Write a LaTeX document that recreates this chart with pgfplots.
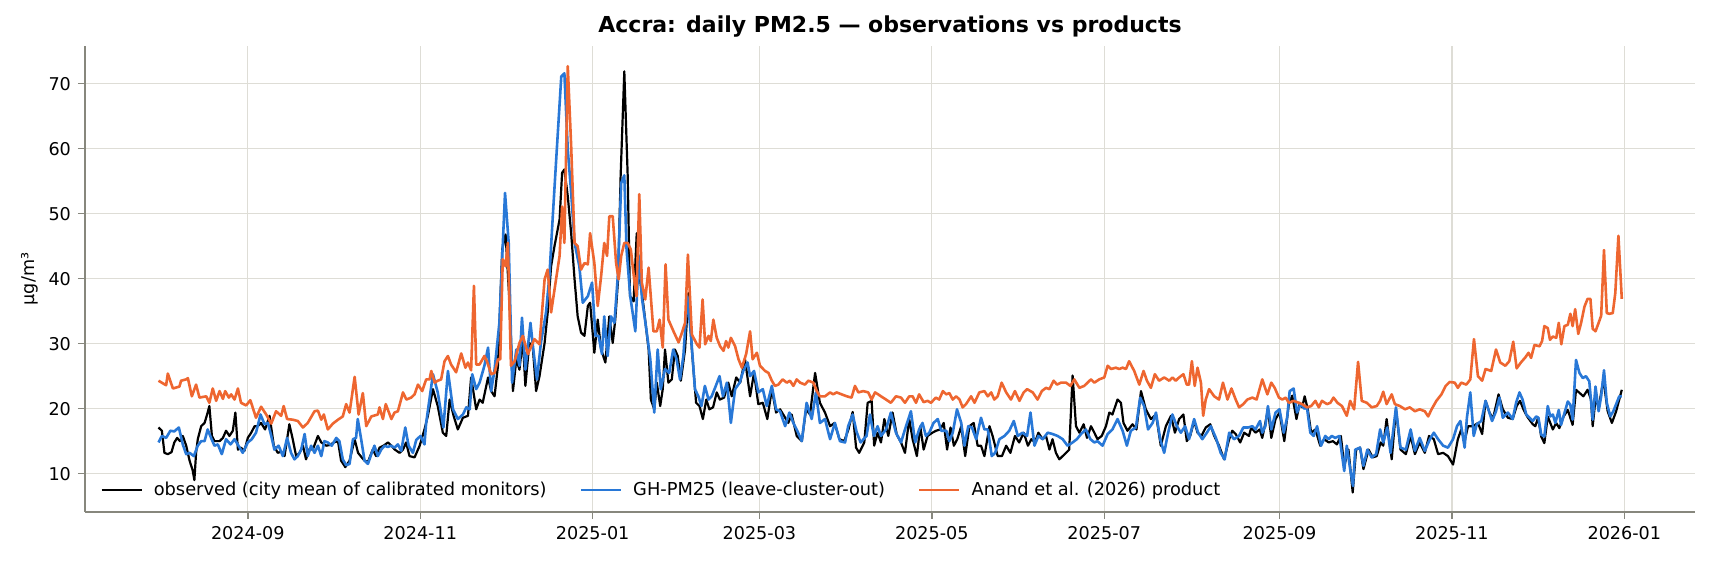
\documentclass[border=0pt]{standalone}
\usepackage{fontspec}
\setmainfont{DejaVu Sans}
\usepackage{pgfplots}
\pgfplotsset{compat=1.18}
\definecolor{ghblue}{RGB}{40,120,215}
\definecolor{anand}{RGB}{238,102,48}
\definecolor{gridc}{RGB}{222,221,214}
\definecolor{spinec}{RGB}{135,135,125}
\begin{document}
\begin{tikzpicture}
\begin{axis}[
  scale only axis, width=805pt, height=233pt,
  xmin=-57.6, xmax=512, ymin=4.1, ymax=75.8,
  axis x line*=bottom, axis y line*=left,
  axis line style={spinec, line width=0.7pt},
  xtick={0,61,122,181,242,303,365,426,487},
  xticklabels={2024-09,2024-11,2025-01,2025-03,2025-05,2025-07,2025-09,2025-11,2026-01},
  ytick={10,20,30,40,50,60,70},
  tick align=outside, major tick length=3.5pt,
  tick style={spinec, line width=0.7pt},
  grid=major, major grid style={gridc, line width=0.6pt},
  tick label style={font=\fontsize{8.8}{10}\selectfont},
  /pgf/number format/assume math mode=true,
  ylabel={µg/m³},
  every axis y label/.style={at={(axis description cs:-0.0345,0.5)}, anchor=center, rotate=90, font=\fontsize{8.8}{10}\selectfont},
  title={Accra: daily PM2.5 — observations vs products},
  every axis title/.style={at={(axis description cs:0.5,1)}, anchor=center, yshift=9.5pt, font=\bfseries\fontsize{11}{13}\selectfont},
  legend style={at={(axis description cs:0.0057,0.047)}, anchor=west, draw=none, fill=none,
    font=\fontsize{8.9}{10}\selectfont, nodes={inner sep=0.5pt},
    /tikz/every odd column/.append style={column sep=5pt},
    /tikz/every even column/.append style={column sep=16pt}},
  legend columns=3, legend cell align=left,
  legend image code/.code={\draw[#1] (0pt,0pt) -- (20pt,0pt);},
]
\addplot[black, line width=1.1pt, line join=round] coordinates {
(-31.6,17.1) (-30.4,16.6) (-29.5,13.2) (-28.3,13.0) (-27.0,13.3) (-26.0,14.8) (-25.0,15.5) (-24.0,15.0) (-23.0,15.8) (-21.8,14.3)
(-20.6,12.0) (-19.5,10.5) (-18.9,9.0) (-18.3,13.2) (-17.7,15.3) (-16.5,17.3) (-15.3,17.8) (-14.4,19.1) (-13.6,20.4) (-12.7,15.8)
(-11.8,15.0) (-10.0,15.0) (-8.8,15.5) (-7.7,16.6) (-6.5,15.8) (-5.3,16.6) (-4.4,19.4) (-3.5,13.7) (-2.4,14.0) (-1.2,13.5)
(0.0,15.5) (1.2,16.3) (2.4,17.3) (3.5,17.3) (4.7,17.8) (6.1,16.8) (7.7,18.9) (9.2,14.3) (10.6,13.2) (11.8,13.4)
(13.0,12.7) (14.7,17.6) (15.9,15.3) (17.1,12.7) (18.3,13.2) (19.5,14.3) (20.6,12.2) (21.8,13.8) (23.0,13.7) (24.8,15.8)
(26.0,14.8) (27.7,14.3) (29.0,14.4) (30.4,14.8) (31.9,15.0) (33.0,12.0) (34.5,11.0) (36.0,12.0) (37.8,15.3) (39.0,13.2)
(40.1,12.6) (41.3,12.0) (42.5,11.8) (44.2,13.7) (45.4,12.7) (46.6,14.0) (48.0,14.3) (49.6,14.8) (50.8,14.3) (52.0,13.7)
(53.7,13.2) (54.9,13.7) (56.0,14.8) (57.2,12.7) (59.0,12.5) (60.8,14.3) (62.5,16.8) (63.7,18.9) (65.5,23.0) (67.2,20.4)
(69.0,16.3) (70.2,15.8) (71.4,21.4) (72.8,18.9) (74.3,16.8) (76.1,18.6) (77.9,18.9) (79.0,24.8) (80.8,19.9) (82.0,21.4)
(83.1,20.9) (85.0,24.8) (86.1,22.7) (87.3,21.9) (88.5,26.6) (90.0,44.5) (91.2,46.8) (92.6,36.3) (93.8,22.7) (95.0,27.6)
(96.1,26.0) (97.3,30.7) (98.2,23.5) (99.6,30.1) (100.8,29.6) (102.0,22.7) (103.2,25.0) (105.0,30.1) (106.1,34.8) (107.3,41.9)
(108.5,45.0) (110.3,49.1) (111.2,56.3) (112.0,56.8) (113.2,52.7) (114.4,47.0) (115.6,39.9) (116.7,34.2) (117.9,31.7) (119.1,31.2)
(120.3,35.8) (121.1,36.3) (122.6,28.6) (123.8,33.7) (125.0,29.1) (126.5,27.1) (127.9,34.2) (129.1,30.1) (130.0,33.7) (131.0,39.9)
(131.9,55.8) (133.2,71.9) (134.4,55.8) (135.2,37.3) (136.5,36.5) (137.6,47.0) (138.6,40.4) (140.0,35.8) (141.8,29.1) (142.6,21.4)
(143.8,19.9) (144.7,24.0) (145.9,20.4) (146.8,23.0) (147.6,29.1) (148.8,24.0) (150.0,24.5) (151.1,29.1) (152.1,28.1) (153.2,24.3)
(154.7,29.1) (155.9,37.8) (157.1,29.1) (158.6,20.9) (159.8,20.4) (161.0,18.4) (162.2,21.4) (163.3,19.9) (164.6,20.2) (165.9,22.5)
(167.0,21.4) (168.5,21.7) (170.0,24.0) (171.2,21.9) (172.8,24.8) (174.2,24.0) (175.9,27.6) (177.7,21.9) (179.1,25.5) (180.6,20.7)
(182.2,20.9) (183.8,18.4) (185.4,23.0) (186.9,19.4) (188.3,19.9) (189.7,18.9) (191.2,17.8) (192.4,19.1) (194.2,15.8) (196.0,15.0)
(197.5,19.9) (198.9,19.1) (200.7,25.5) (202.4,20.9) (204.2,19.4) (206.0,17.3) (207.6,17.8) (209.3,15.3) (211.0,15.0) (212.5,16.8)
(214.0,19.5) (215.2,14.0) (216.3,13.2) (218.1,14.8) (219.3,20.9) (220.7,21.2) (221.6,14.3) (222.8,16.3) (224.0,14.8) (225.2,18.4)
(226.6,15.8) (228.1,19.4) (229.6,16.0) (231.1,14.8) (232.5,13.2) (234.0,18.4) (235.2,15.3) (236.7,12.7) (237.9,17.3) (239.1,13.7)
(240.5,15.8) (242.2,16.3) (243.5,16.6) (245.0,16.8) (246.2,17.8) (247.4,13.7) (248.6,17.1) (249.8,14.3) (251.0,15.3) (252.4,17.3)
(253.8,12.7) (255.3,17.3) (256.8,17.8) (258.2,14.3) (259.4,14.3) (260.6,12.7) (262.4,17.3) (263.5,15.8) (265.3,12.7) (266.8,12.7)
(268.3,14.3) (269.8,13.2) (271.4,15.8) (272.9,14.8) (274.5,16.3) (276.0,14.3) (277.2,15.3) (278.5,14.8) (279.7,16.3) (281.2,15.3)
(282.4,15.8) (283.6,13.7) (284.7,15.3) (285.9,13.2) (287.1,12.2) (288.3,12.7) (289.5,13.2) (290.6,13.7) (291.8,25.1) (293.0,17.3)
(294.2,16.3) (295.7,17.6) (296.9,15.5) (298.3,17.3) (299.5,16.3) (300.6,15.3) (302.1,15.8) (303.6,17.3) (304.8,19.4) (305.9,19.1)
(307.7,21.4) (308.9,20.9) (309.8,17.8) (311.2,16.6) (313.0,17.6) (314.4,16.8) (316.0,22.7) (317.7,19.9) (319.5,18.4) (321.3,19.1)
(323.0,14.3) (324.8,17.3) (326.6,18.9) (328.0,16.3) (329.5,18.4) (331.0,19.1) (332.2,15.0) (333.4,15.8) (334.8,18.1) (336.0,16.3)
(337.4,15.8) (338.9,17.1) (340.5,17.6) (341.9,15.8) (343.6,14.3) (345.4,12.2) (347.2,15.3) (348.3,16.6) (349.5,16.1) (351.1,14.8)
(352.5,16.3) (354.2,15.8) (355.0,17.1) (356.5,16.3) (358.0,16.8) (358.9,15.5) (360.0,17.8) (360.9,19.9) (362.1,15.5) (363.6,18.4)
(365.0,19.4) (366.7,15.0) (368.3,20.7) (369.5,22.0) (371.0,18.4) (372.2,20.9) (373.0,20.2) (373.9,21.9) (375.0,19.9) (376.2,16.3)
(377.7,16.8) (379.4,14.3) (380.8,15.3) (382.4,14.8) (383.9,15.0) (385.3,14.5) (386.7,15.8) (387.9,11.2) (389.4,13.7) (390.9,7.1)
(392.1,13.7) (393.5,14.0) (394.7,10.7) (396.5,13.7) (398.0,12.5) (399.4,12.7) (400.8,14.8) (401.7,14.3) (402.9,18.4) (404.7,12.2)
(406.2,19.9) (407.8,13.7) (409.7,13.0) (411.4,15.8) (412.9,13.0) (414.6,14.8) (416.4,13.2) (417.9,15.8) (419.6,15.3) (421.1,13.0)
(422.9,13.2) (424.6,12.7) (426.4,11.4) (428.1,15.3) (429.3,16.8) (430.5,15.0) (431.7,17.3) (433.5,17.3) (435.2,17.8) (436.7,16.1)
(437.9,21.2) (439.3,19.4) (440.5,18.4) (442.5,22.2) (444.0,19.9) (445.8,18.6) (447.5,18.4) (448.9,20.4) (450.1,21.2) (451.3,19.9)
(452.6,18.8) (454.6,17.6) (455.5,17.3) (456.5,18.6) (457.6,15.7) (458.7,14.7) (459.9,18.8) (461.7,16.8) (462.9,17.8) (464.0,17.0)
(465.5,18.8) (467.0,19.8) (468.7,17.5) (469.9,22.9) (471.2,22.4) (472.5,21.9) (474.0,22.9) (475.2,21.4) (475.8,17.3) (476.9,21.9)
(477.9,20.1) (479.6,24.5) (481.1,19.6) (482.6,17.8) (484.1,19.6) (486.1,22.9)
};
\addlegendentry{observed (city mean of calibrated monitors)}
\addplot[ghblue, line width=1.3pt, line join=round] coordinates {
(-31.6,14.8) (-30.4,15.8) (-28.9,15.5) (-27.4,16.6) (-26.0,16.5) (-24.4,17.1) (-23.0,14.5) (-21.8,13.0) (-20.6,13.2) (-19.1,12.7)
(-17.7,14.3) (-16.5,15.0) (-15.3,15.0) (-14.2,16.8) (-13.0,15.5) (-11.8,14.3) (-10.6,14.5) (-9.2,13.0) (-7.7,15.3) (-6.1,14.5)
(-4.7,15.3) (-3.3,14.3) (-1.8,13.2) (0.0,14.8) (1.4,15.3) (2.9,16.3) (4.5,19.1) (5.9,17.6) (7.1,17.8) (8.3,15.8)
(9.4,13.7) (10.9,14.3) (12.4,12.7) (13.9,15.5) (15.3,13.2) (16.5,12.2) (17.7,12.7) (18.9,13.7) (20.1,16.1) (21.2,12.7)
(22.4,14.3) (23.6,13.2) (24.8,14.3) (26.0,12.7) (27.1,15.0) (28.3,14.8) (29.7,14.3) (31.3,15.5) (32.4,15.0) (33.6,12.2)
(34.8,11.3) (36.0,11.5) (37.2,15.3) (38.3,15.5) (38.9,18.4) (40.1,15.3) (41.3,12.0) (42.5,11.5) (43.7,13.0) (44.8,14.3)
(46.0,12.7) (47.2,13.7) (48.4,14.3) (49.5,14.1) (50.7,14.3) (51.9,14.0) (53.1,14.5) (54.3,13.5) (55.7,17.1) (56.9,14.3)
(58.4,13.2) (59.6,15.2) (61.1,15.8) (62.5,14.5) (63.1,17.8) (65.5,25.3) (67.2,22.5) (69.2,17.1) (70.8,25.8) (72.6,19.9)
(74.3,18.4) (76.1,19.1) (77.3,20.2) (78.5,19.9) (79.4,25.3) (80.8,23.0) (82.0,24.0) (83.7,26.6) (85.0,29.4) (86.1,22.7)
(87.3,26.0) (89.0,33.2) (91.0,53.2) (92.3,45.5) (93.5,24.0) (95.0,29.1) (96.1,26.6) (97.0,34.0) (98.2,26.0) (100.0,33.2)
(101.0,29.1) (102.3,24.5) (103.7,30.1) (105.5,34.8) (106.7,40.4) (107.9,49.6) (109.1,58.3) (110.9,71.1) (112.0,71.6) (113.2,59.9)
(114.4,53.2) (115.6,45.5) (117.3,41.9) (118.5,36.3) (120.3,37.3) (121.8,39.4) (123.0,31.2) (124.1,31.2) (125.3,28.4) (126.1,34.2)
(127.3,28.1) (128.5,34.2) (129.7,33.2) (130.9,40.4) (132.1,54.7) (133.2,55.9) (134.0,44.5) (135.3,37.3) (137.1,31.9) (138.3,43.5)
(139.5,36.8) (141.0,32.2) (142.4,27.6) (143.8,19.4) (145.0,29.1) (146.1,23.0) (147.6,26.1) (149.1,25.5) (150.5,29.1) (151.7,27.6)
(152.9,24.5) (154.1,28.1) (155.5,37.3) (156.8,31.2) (158.2,23.0) (159.4,21.9) (160.5,20.4) (161.7,23.5) (163.0,21.4) (164.1,21.9)
(165.3,23.2) (166.9,25.0) (168.1,21.9) (169.5,24.0) (170.9,17.8) (172.4,23.0) (174.0,24.0) (175.3,25.8) (176.8,27.1) (177.7,25.0)
(179.1,25.8) (180.6,22.5) (182.2,23.0) (183.6,20.4) (185.4,23.5) (186.9,19.9) (188.3,19.6) (190.1,17.3) (191.6,19.4) (193.0,17.8)
(194.4,16.6) (196.0,15.0) (197.7,20.9) (199.5,18.4) (201.0,22.5) (202.4,17.8) (204.2,18.4) (206.0,15.3) (207.7,17.8) (209.5,15.0)
(211.3,14.8) (212.4,17.3) (214.0,19.1) (215.4,16.4) (216.8,14.8) (218.9,15.8) (220.1,19.1) (221.5,15.8) (222.8,17.3) (224.0,15.8)
(225.8,16.8) (227.5,19.4) (229.3,16.3) (231.1,14.8) (232.5,16.8) (234.6,19.6) (236.1,14.8) (237.5,16.8) (238.7,17.8) (239.9,15.8)
(241.1,16.3) (242.6,17.8) (244.1,18.4) (245.3,16.6) (247.1,16.6) (248.2,15.0) (249.4,16.3) (250.9,19.9) (252.4,17.8) (253.5,14.3)
(254.9,17.3) (256.2,17.1) (257.7,15.3) (259.4,18.6) (260.6,16.8) (261.8,16.8) (263.2,12.7) (264.4,13.2) (265.9,15.3) (267.7,15.8)
(269.4,16.6) (271.0,18.1) (272.4,15.8) (274.1,16.3) (275.7,15.8) (276.9,19.4) (278.3,14.3) (279.7,15.8) (281.2,15.3) (283.0,16.3)
(284.7,16.1) (286.5,15.8) (288.3,15.3) (290.0,14.3) (291.8,14.8) (293.3,15.3) (294.8,16.1) (296.5,16.8) (298.1,15.3) (299.5,14.8)
(300.6,15.0) (302.4,14.3) (304.2,16.1) (305.9,16.8) (307.7,18.4) (309.5,16.6) (311.0,14.3) (312.4,16.6) (314.2,17.1) (315.7,21.7)
(317.1,20.4) (318.5,16.8) (320.1,17.8) (321.3,19.4) (322.8,15.3) (324.2,13.2) (325.6,16.3) (327.1,19.1) (328.7,17.3) (330.1,16.3)
(331.6,17.3) (333.0,15.3) (334.8,18.4) (336.2,16.3) (337.7,15.3) (339.3,16.3) (340.7,17.3) (342.5,15.5) (344.2,13.2) (345.6,12.2)
(347.2,16.3) (348.9,15.3) (350.7,15.8) (352.2,17.1) (353.9,17.1) (355.4,17.3) (356.5,16.8) (358.1,18.1) (358.9,16.3) (360.0,17.3)
(360.9,20.4) (362.1,16.8) (363.6,19.4) (365.0,19.9) (366.5,16.3) (367.7,18.6) (368.6,22.7) (370.0,23.1) (371.2,19.4) (372.4,20.7)
(373.8,20.0) (374.7,20.2) (375.9,16.3) (377.1,15.8) (378.3,17.3) (379.7,14.3) (381.2,15.8) (382.4,15.3) (383.5,15.8) (384.7,15.5)
(386.2,15.8) (387.9,10.4) (388.8,14.3) (390.0,10.7) (391.0,8.1) (391.8,13.7) (393.5,14.0) (394.7,11.2) (396.1,13.7) (397.6,12.5)
(399.2,13.0) (400.6,16.8) (401.7,14.8) (403.1,17.1) (404.3,13.2) (406.2,20.2) (407.8,14.0) (409.7,13.7) (411.4,16.8) (412.9,13.5)
(414.6,15.5) (416.4,13.5) (418.2,15.3) (419.6,16.3) (421.1,15.3) (422.9,14.3) (424.6,14.0) (426.4,15.3) (427.8,17.3) (429.0,18.1)
(430.5,14.0) (431.3,18.6) (432.5,22.5) (433.7,15.8) (434.8,17.6) (436.4,18.1) (437.9,21.2) (439.1,19.6) (440.2,18.1) (441.6,19.6)
(442.8,21.7) (444.0,18.6) (445.8,19.4) (447.5,18.4) (448.7,20.9) (449.9,22.5) (451.0,21.4) (452.3,19.1) (454.6,18.1) (455.8,18.8)
(456.6,18.6) (457.6,16.0) (458.7,15.7) (459.9,20.4) (460.8,18.8) (461.7,19.1) (462.6,17.8) (463.8,19.8) (464.6,17.5) (465.8,19.3)
(467.0,21.1) (467.9,20.6) (468.7,18.3) (469.9,27.5) (471.1,25.5) (472.3,24.7) (473.4,25.0) (474.6,24.2) (475.8,18.3) (476.8,23.4)
(477.9,19.6) (478.8,21.9) (479.8,25.9) (480.8,20.9) (482.0,18.8) (483.1,19.6) (484.3,20.9) (485.2,21.9) (486.1,21.9)
};
\addlegendentry{GH-PM25 (leave-cluster-out)}
\addplot[anand, line width=1.3pt, line join=round] coordinates {
(-31.6,24.3) (-28.9,23.6) (-28.3,25.4) (-26.5,23.1) (-24.2,23.4) (-23.6,24.3) (-21.8,24.5) (-21.2,24.7) (-19.8,21.9) (-18.3,23.7)
(-17.1,21.7) (-14.7,21.9) (-13.6,20.9) (-12.4,23.1) (-11.2,21.2) (-10.0,22.7) (-8.8,21.5) (-8.0,22.7) (-6.7,21.7) (-5.9,22.2)
(-4.7,21.4) (-3.5,23.1) (-2.4,20.9) (-0.6,20.5) (0.9,21.3) (2.9,18.6) (4.7,20.3) (6.5,19.1) (8.3,17.7) (10.0,19.6)
(11.8,18.9) (12.7,20.4) (13.9,18.4) (15.9,18.3) (17.7,18.1) (19.5,17.1) (21.2,17.8) (23.6,19.6) (24.8,19.7) (26.0,18.3)
(26.9,19.1) (28.3,16.8) (30.1,17.7) (31.9,18.3) (33.6,18.8) (34.8,20.7) (36.0,19.4) (37.8,24.9) (39.2,19.1) (40.7,22.4)
(41.9,17.3) (43.7,18.8) (46.0,19.1) (46.6,20.2) (47.8,18.4) (48.8,20.7) (50.8,18.4) (51.9,19.4) (53.1,19.6) (54.9,22.5)
(56.1,21.4) (57.8,21.7) (59.0,22.2) (60.2,23.7) (61.7,22.7) (63.1,24.5) (64.3,24.5) (64.9,25.8) (66.1,24.0) (67.2,24.3)
(68.4,24.5) (69.6,27.3) (70.8,28.1) (71.9,26.8) (73.7,25.6) (75.5,28.5) (77.0,26.3) (77.9,27.1) (79.0,25.9) (80.0,38.9)
(80.8,26.8) (82.0,26.8) (83.7,28.1) (84.6,27.3) (86.1,25.3) (87.3,25.5) (88.5,27.6) (89.3,27.6) (90.2,43.0) (91.2,41.9)
(92.0,45.5) (93.1,26.6) (94.4,27.3) (96.1,30.1) (97.3,31.2) (99.1,28.4) (100.3,29.6) (101.4,30.7) (103.2,29.9) (105.0,39.9)
(106.1,41.4) (107.3,34.8) (108.5,38.3) (110.3,43.5) (111.2,51.1) (112.0,45.5) (113.2,72.7) (114.4,60.4) (115.6,45.5) (116.7,45.0)
(117.9,41.4) (119.1,42.4) (120.3,42.2) (121.1,47.0) (122.6,42.4) (123.8,35.8) (125.0,40.4) (126.1,45.5) (127.1,43.5) (127.9,49.6)
(129.1,49.6) (130.3,42.4) (131.2,39.9) (132.1,43.5) (133.2,45.5) (134.4,45.5) (135.5,44.5) (136.7,39.9) (137.5,37.3) (138.5,53.0)
(139.4,39.4) (140.6,36.8) (141.8,41.7) (143.5,31.9) (144.7,31.9) (145.7,33.7) (146.8,29.4) (147.8,42.2) (148.8,33.7) (150.6,31.9)
(152.4,30.2) (153.6,31.7) (154.7,33.2) (155.7,43.7) (157.1,31.4) (158.9,29.9) (159.8,29.4) (160.9,36.8) (161.8,29.9) (163.0,31.2)
(163.8,30.4) (164.7,33.7) (165.9,30.9) (167.1,29.6) (168.3,28.9) (169.2,30.4) (170.0,29.4) (170.9,30.9) (172.4,29.6) (173.6,27.6)
(174.8,26.3) (176.3,28.4) (177.7,31.9) (178.6,27.6) (180.1,28.6) (181.2,26.6) (183.0,25.8) (184.2,25.5) (185.4,24.3) (186.5,23.5)
(187.7,23.7) (189.2,24.5) (190.7,24.0) (191.8,24.3) (193.0,23.5) (194.2,24.5) (195.4,24.0) (197.1,23.7) (198.3,24.3) (200.1,24.0)
(201.3,22.7) (202.4,21.9) (204.2,21.9) (206.0,22.5) (207.1,22.2) (208.3,22.5) (210.1,22.2) (211.9,21.9) (213.6,21.7) (214.8,23.5)
(216.0,22.5) (217.7,22.7) (219.5,22.5) (220.7,21.4) (221.9,22.5) (223.0,22.2) (224.0,21.9) (225.8,21.4) (227.5,20.9) (229.3,21.9)
(231.1,21.7) (232.5,20.9) (234.0,21.9) (235.2,21.9) (236.4,20.9) (237.5,22.2) (239.1,21.0) (240.5,21.2) (241.7,20.9) (243.4,21.7)
(244.6,21.4) (245.9,22.7) (247.1,22.2) (248.2,22.4) (249.4,21.4) (250.6,21.9) (251.8,21.4) (252.9,20.2) (254.1,20.7) (255.9,21.9)
(257.1,20.9) (258.8,22.5) (260.6,22.7) (261.8,21.9) (263.0,22.5) (264.1,21.4) (265.3,21.9) (266.7,24.0) (268.3,22.5) (270.0,21.4)
(271.4,22.7) (273.0,21.2) (274.5,22.5) (275.7,23.0) (277.7,22.5) (279.4,21.4) (280.9,22.7) (282.4,23.2) (283.6,23.0) (285.1,24.3)
(286.3,23.7) (287.7,24.0) (289.5,24.0) (291.0,23.5) (292.4,24.5) (294.2,23.2) (295.9,23.5) (297.1,24.0) (298.3,24.5) (299.5,24.0)
(301.2,24.5) (303.0,24.8) (304.2,26.6) (305.4,26.1) (307.1,26.3) (308.3,26.1) (309.5,26.3) (310.7,26.1) (311.8,27.3) (313.6,25.8)
(315.4,23.7) (316.9,25.8) (318.1,24.3) (319.5,23.2) (320.9,25.3) (322.4,24.3) (324.2,24.8) (326.0,24.3) (327.1,24.8) (328.3,24.3)
(329.5,24.8) (331.0,25.3) (332.2,23.7) (333.0,23.7) (334.0,27.3) (335.0,23.5) (336.0,26.3) (337.2,24.0) (338.0,18.9) (338.9,21.4)
(340.1,23.0) (341.9,21.9) (343.6,21.4) (345.0,24.0) (346.6,21.4) (348.0,23.1) (349.5,21.4) (350.7,20.2) (352.2,20.7) (353.6,21.4)
(355.4,21.7) (356.9,21.4) (358.9,24.5) (360.7,22.2) (362.1,24.0) (363.3,23.2) (364.8,21.7) (366.0,21.4) (367.2,21.7) (368.3,20.9)
(370.0,21.2) (371.8,20.9) (373.0,20.7) (374.7,20.2) (376.2,20.4) (377.7,21.2) (378.9,20.2) (380.0,21.2) (381.8,20.7) (383.0,20.9)
(384.1,21.7) (385.5,20.9) (387.1,20.4) (388.8,18.9) (390.0,21.2) (391.4,19.9) (392.8,27.2) (394.1,21.2) (395.9,20.9) (397.6,20.2)
(399.4,20.4) (400.6,21.2) (401.7,22.6) (402.9,20.7) (404.7,22.2) (405.8,20.7) (407.6,20.4) (409.4,19.9) (411.1,20.2) (412.9,19.6)
(414.6,19.9) (416.4,19.6) (417.6,18.8) (418.8,19.9) (420.5,21.2) (422.3,22.2) (423.8,23.5) (425.2,24.1) (427.0,24.0) (428.1,23.2)
(429.3,24.0) (431.1,23.7) (432.5,24.5) (433.8,30.7) (435.2,25.0) (436.7,24.3) (437.9,26.1) (439.9,25.8) (441.6,29.1) (443.1,27.1)
(444.9,26.6) (446.3,27.3) (447.7,30.3) (448.9,26.2) (450.4,27.1) (452.0,27.9) (453.1,28.6) (454.0,27.8) (455.2,29.8) (457.0,29.6)
(457.9,30.4) (458.7,32.7) (459.9,32.4) (460.7,30.6) (461.7,31.1) (462.9,30.9) (463.8,33.2) (464.7,29.9) (465.8,32.7) (467.0,32.9)
(467.9,34.6) (468.7,32.7) (469.6,35.3) (470.7,31.5) (471.7,33.2) (472.9,35.7) (474.0,36.9) (475.0,36.9) (475.8,32.3) (476.8,31.9)
(477.9,33.2) (478.8,34.3) (479.8,44.4) (480.8,34.7) (481.7,34.6) (482.9,34.7) (483.8,37.8) (484.9,46.6) (486.1,36.9)
};
\addlegendentry{Anand et al. (2026) product}
\end{axis}
\pgfresetboundingbox
\path[use as bounding box] (-42.5pt,-27pt) rectangle (814.5pt,256pt);
\end{tikzpicture}
\end{document}
